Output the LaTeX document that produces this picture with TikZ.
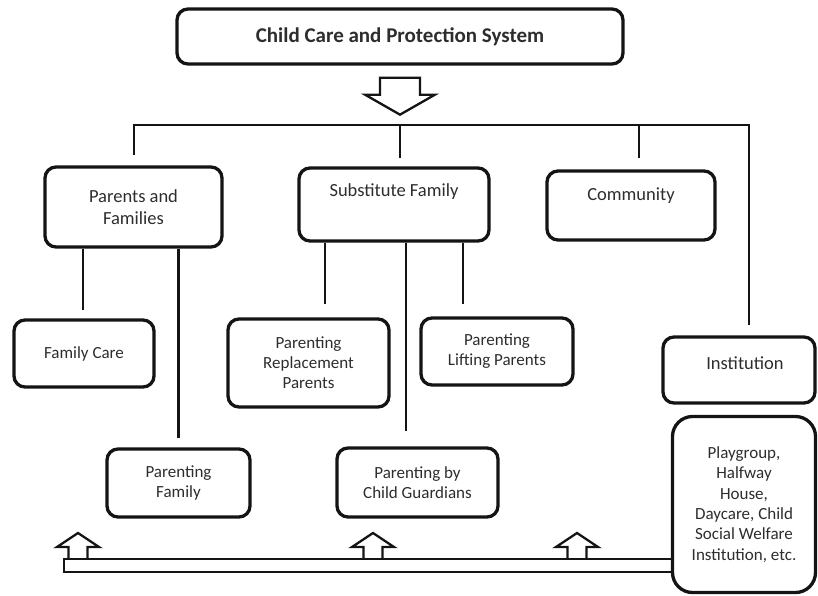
\documentclass[tikz,border=0pt]{standalone}
\usepackage{fontspec}
\setmainfont{Carlito}
\usetikzlibrary{calc}
\definecolor{ink}{RGB}{20,20,20}
\definecolor{txtc}{RGB}{45,45,45}
\tikzset{
  box/.style={draw=ink, line width=3.3pt, rounded corners=11pt, inner sep=0pt, align=center, text=txtc},
  lvlone/.style={font=\fontsize{18.5}{22}\selectfont},
  lvltwo/.style={font=\fontsize{17}{20}\selectfont},
  txt/.style={inner sep=0pt, align=center, text=txtc},
  conn/.style={draw=ink, line width=2.6pt},
  blockarrow/.style={draw=ink, line width=2.3pt, line join=miter},
  barline/.style={draw=ink, line width=2.6pt}
}
\begin{document}
\begin{tikzpicture}[x=1pt,y=-1pt]
\useasboundingbox (0,0) rectangle (818,595);

% top
\node[box, minimum width=446, minimum height=55, font=\fontsize{21}{24}\selectfont\bfseries] (top) at (400,36.5) {Child Care and Protection System};

% level 1
\node[box, lvlone, minimum width=177, minimum height=80] (pf) at (133.5,207) {Parents and\\Families};
\node[box, minimum width=190, minimum height=73] (sub) at (394,204.5) {};
\node[txt, lvlone] (subt) at (394,192) {Substitute Family};
\node[box, minimum width=168, minimum height=69] (com) at (631,205.5) {};
\node[txt, lvlone] (comt) at (631,196) {Community};
\node[box, minimum width=152, minimum height=66] (inst) at (739,370) {};
\node[txt, lvlone] (instt) at (745,363) {Institution};

% level 2
\node[box, lvltwo, minimum width=140, minimum height=67] (fc) at (84,353.5) {Family Care};
\node[box, lvltwo, minimum width=161, minimum height=88] (rep) at (308.5,363) {Parenting\\Replacement\\Parents};
\node[box, lvltwo, minimum width=152, minimum height=67] (lift) at (497,351.5) {Parenting\\Lifting Parents};
\node[box, lvltwo, minimum width=143, minimum height=68] (fam) at (178.5,483) {Parenting\\Family};
\node[box, lvltwo, minimum width=161, minimum height=69] (guard) at (417.5,482.5) {Parenting by\\Child Guardians};
\node[box, lvltwo, rounded corners=20pt, minimum width=143, minimum height=176, font=\fontsize{17}{20.3}\selectfont] (play) at (744,504.5) {Playgroup,\\Halfway\\House,\\Daycare, Child\\Social Welfare\\Institution, etc.};

% down block arrow
\draw[blockarrow] ($(top.south)+(-20,12)$) -- ++(40,0) -- ++(0,17) -- ++(15,0)
  -- ($(top.south)+(0,49)$) -- ($(top.south)+(-35,29)$) -- ++(15,0) -- cycle;

% connector end points (just above each child box)
\coordinate (busL) at (134,125);
\coordinate (busR) at (749,125);
\coordinate (pfT) at ($(pf.north)+(0.5,-10)$);
\coordinate (subT) at ($(sub.north)+(6,-8)$);
\coordinate (comT) at ($(com.north)+(8,-11)$);
\coordinate (instT) at ($(inst.north)+(10,-10)$);
\coordinate (fcT) at ($(fc.north)+(-1,-8)$);
\coordinate (famT) at ($(fam.north)+(0,-9)$);
\coordinate (repT) at ($(rep.north)+(16.5,-13)$);
\coordinate (guardT) at ($(guard.north)+(-11.5,-15)$);
\coordinate (liftT) at ($(lift.north)+(-34,-12)$);

% bus
\draw[conn, line cap=rect] (busL) -- (busR);
\draw[conn] (busL) -- (pfT);
\draw[conn] (subT |- busL) -- (subT);
\draw[conn] (comT |- busL) -- (comT);
\draw[conn] (busR) -- (instT);

% parents branches
\draw[conn] (fcT |- pf.south) -- (fcT);
\draw[conn] (famT |- pf.south) -- (famT);

% substitute branches
\draw[conn] (repT |- sub.south) -- (repT);
\draw[conn] (guardT |- sub.south) -- (guardT);
\draw[conn] (liftT |- sub.south) -- (liftT);

% bottom bar
\coordinate (barTL) at (64,559);
\coordinate (barBL) at (64,572);
\draw[barline, line join=miter] (play.west |- barTL) -- (barTL) -- (barBL) -- (play.west |- barBL);

% up block arrows
\foreach \ax in {78,373,577}{
  \draw[blockarrow] (\ax-9.5,559) -- (\ax-9.5,547) -- (\ax-21,547) -- (\ax,533)
    -- (\ax+21,547) -- (\ax+9.5,547) -- (\ax+9.5,559);
}
\end{tikzpicture}
\end{document}
